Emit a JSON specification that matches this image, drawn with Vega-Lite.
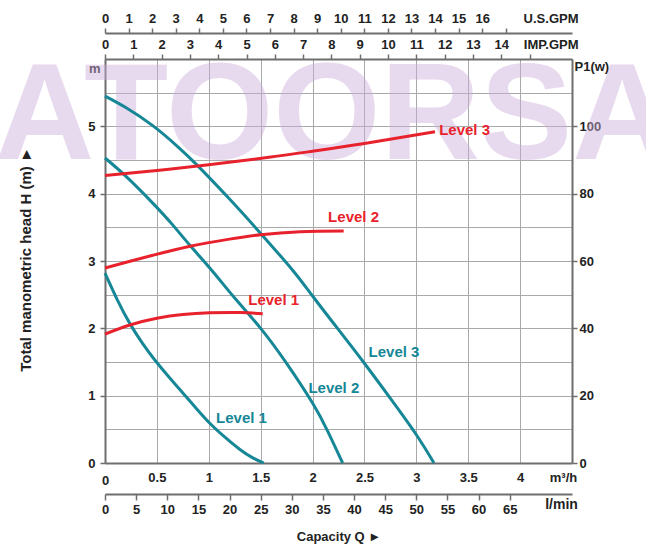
{
  "$schema": "https://vega.github.io/schema/vega-lite/v6.json",
  "autosize": {"type": "none"},
  "width": 467,
  "height": 404,
  "padding": {"left": 105, "top": 59, "right": 74, "bottom": 94},
  "background": "white",
  "config": {
    "font": "Liberation Sans",
    "view": {"stroke": null},
    "axis": {
      "labelFont": "Liberation Sans",
      "labelFontSize": 13,
      "labelFontWeight": "bold",
      "labelColor": "#222222",
      "domainColor": "#6e6e6e",
      "domainWidth": 2,
      "tickColor": "#6e6e6e",
      "tickWidth": 1.5,
      "labelFlush": false,
      "labelOverlap": false,
      "labelBound": false,
      "grid": false,
      "titleFont": "Liberation Sans",
      "titleFontWeight": "bold",
      "titleColor": "#222222",
      "titleFontSize": 13
    }
  },
  "datasets": {
    "head": [
      {"level": "Level 1", "q": 0, "h": 2.82},
      {"level": "Level 1", "q": 0.12, "h": 2.42},
      {"level": "Level 1", "q": 0.24, "h": 2.07},
      {"level": "Level 1", "q": 0.36, "h": 1.78},
      {"level": "Level 1", "q": 0.48, "h": 1.53},
      {"level": "Level 1", "q": 0.62, "h": 1.27},
      {"level": "Level 1", "q": 0.75, "h": 1.04},
      {"level": "Level 1", "q": 0.88, "h": 0.81},
      {"level": "Level 1", "q": 1.01, "h": 0.59},
      {"level": "Level 1", "q": 1.15, "h": 0.39},
      {"level": "Level 1", "q": 1.3, "h": 0.2},
      {"level": "Level 1", "q": 1.42, "h": 0.08},
      {"level": "Level 1", "q": 1.53, "h": 0},
      {"level": "Level 2", "q": 0, "h": 4.53},
      {"level": "Level 2", "q": 0.2, "h": 4.26},
      {"level": "Level 2", "q": 0.46, "h": 3.86},
      {"level": "Level 2", "q": 0.65, "h": 3.54},
      {"level": "Level 2", "q": 0.82, "h": 3.23},
      {"level": "Level 2", "q": 1.03, "h": 2.86},
      {"level": "Level 2", "q": 1.25, "h": 2.45},
      {"level": "Level 2", "q": 1.5, "h": 2.0},
      {"level": "Level 2", "q": 1.75, "h": 1.48},
      {"level": "Level 2", "q": 2.0, "h": 0.89},
      {"level": "Level 2", "q": 2.15, "h": 0.46},
      {"level": "Level 2", "q": 2.29, "h": 0},
      {"level": "Level 3", "q": 0, "h": 5.45},
      {"level": "Level 3", "q": 0.2, "h": 5.28},
      {"level": "Level 3", "q": 0.46, "h": 5.01},
      {"level": "Level 3", "q": 0.7, "h": 4.7},
      {"level": "Level 3", "q": 0.89, "h": 4.42},
      {"level": "Level 3", "q": 1.2, "h": 3.92},
      {"level": "Level 3", "q": 1.5, "h": 3.41},
      {"level": "Level 3", "q": 1.81, "h": 2.86},
      {"level": "Level 3", "q": 2.0, "h": 2.48},
      {"level": "Level 3", "q": 2.25, "h": 1.98},
      {"level": "Level 3", "q": 2.49, "h": 1.5},
      {"level": "Level 3", "q": 2.75, "h": 0.96},
      {"level": "Level 3", "q": 3.0, "h": 0.42},
      {"level": "Level 3", "q": 3.17, "h": 0}
    ],
    "power": [
      {"level": "Level 1", "q": 0, "p": 38.3},
      {"level": "Level 1", "q": 0.24, "p": 41.0},
      {"level": "Level 1", "q": 0.5, "p": 43.0},
      {"level": "Level 1", "q": 0.75, "p": 44.1},
      {"level": "Level 1", "q": 1.01, "p": 44.6},
      {"level": "Level 1", "q": 1.3, "p": 44.7},
      {"level": "Level 1", "q": 1.52, "p": 44.3},
      {"level": "Level 2", "q": 0, "p": 57.9},
      {"level": "Level 2", "q": 0.25, "p": 60.0},
      {"level": "Level 2", "q": 0.46, "p": 61.7},
      {"level": "Level 2", "q": 0.82, "p": 64.4},
      {"level": "Level 2", "q": 1.2, "p": 66.5},
      {"level": "Level 2", "q": 1.5, "p": 67.8},
      {"level": "Level 2", "q": 1.88, "p": 68.7},
      {"level": "Level 2", "q": 2.3, "p": 68.9},
      {"level": "Level 3", "q": 0, "p": 85.4},
      {"level": "Level 3", "q": 0.5, "p": 86.9},
      {"level": "Level 3", "q": 1.0, "p": 88.6},
      {"level": "Level 3", "q": 1.58, "p": 90.8},
      {"level": "Level 3", "q": 2.0, "p": 92.6},
      {"level": "Level 3", "q": 2.5, "p": 94.9},
      {"level": "Level 3", "q": 3.18, "p": 98.4}
    ],
    "labels_h": [
      {"q": 1.07, "h": 0.67, "t": "Level 1"},
      {"q": 1.96, "h": 1.11, "t": "Level 2"},
      {"q": 2.54, "h": 1.65, "t": "Level 3"}
    ],
    "labels_p": [
      {"q": 1.38, "p": 48.4, "t": "Level 1"},
      {"q": 2.15, "p": 73, "t": "Level 2"},
      {"q": 3.22, "p": 98.8, "t": "Level 3"}
    ],
    "mark_text": [
      {"q": 2.2, "h": 4.515, "t": "ATOORSA"}
    ],
    "anchor": [
      {"v": 0}
    ]
  },
  "layer": [
    {
      "encoding": {
        "x": {
          "field": "q",
          "type": "quantitative",
          "scale": {"domain": [0, 4.5], "nice": false, "zero": false},
          "axis": {
            "orient": "bottom",
            "values": [0, 0.5, 1, 1.5, 2, 2.5, 3, 3.5, 4, 4.5],
            "format": "~g",
            "labelExpr": "datum.value == 4.5 ? 'm³/h' : datum.label",
            "labelOffset": {"condition": {"test": "datum.value == 4.5", "value": -9}, "value": 0},
            "labelPadding": {"condition": {"test": "datum.value == 0", "value": 11}, "value": 8},
            "ticks": false,
            "tickSize": 0,
            "grid": true,
            "gridColor": "#a9a9a9",
            "gridWidth": 1,
            "title": null
          }
        }
      },
      "layer": [
        {
          "encoding": {
            "y": {
              "field": "h",
              "type": "quantitative",
              "scale": {"domain": [0, 6], "nice": false, "zero": false},
              "axis": {
                "orient": "left",
                "values": [0, 0.5, 1, 1.5, 2, 2.5, 3, 3.5, 4, 4.5, 5, 5.5, 6],
                "format": "~g",
                "labelExpr": "datum.value == 6 ? 'm' : (datum.value % 1 == 0 ? datum.label : '')",
                "tickSize": {"condition": {"test": "datum.value % 1 != 0 || datum.value == 6", "value": 0}, "value": 5},
                "labelPadding": 5,
                "labelOffset": {"condition": {"test": "datum.value == 6", "value": 9}, "value": 0},
                "grid": true,
                "gridColor": "#a9a9a9",
                "gridWidth": 1,
                "title": "Total manometric head H (m) ►",
                "titleFontSize": 15,
                "titleX": -80,
                "titleY": 200,
                "titleAlign": "center",
                "titleBaseline": "middle",
                "titleAngle": -90
              }
            }
          },
          "layer": [
            {
              "data": {"name": "mark_text"},
              "mark": {"type": "text", "fontSize": 138, "fontWeight": "bold", "font": "Liberation Sans", "color": "#ceafdb", "opacity": 0.45, "align": "center", "baseline": "alphabetic"},
              "encoding": {"text": {"field": "t"}}
            },
            {
              "data": {"name": "head"},
              "mark": {"type": "line", "strokeWidth": 3, "interpolate": "natural", "color": "#168796"},
              "encoding": {"detail": {"field": "level"}}
            },
            {
              "data": {"name": "labels_h"},
              "mark": {"type": "text", "fontSize": 15, "fontWeight": "bold", "color": "#168796", "align": "left", "baseline": "middle"},
              "encoding": {"text": {"field": "t"}}
            }
          ]
        },
        {
          "encoding": {
            "y": {
              "field": "p",
              "type": "quantitative",
              "scale": {"domain": [0, 120], "nice": false, "zero": false},
              "axis": {
                "orient": "right",
                "values": [0, 20, 40, 60, 80, 100, 120],
                "labelExpr": "datum.value == 120 ? 'P1(w)' : datum.label",
                "tickSize": {"condition": {"test": "datum.value == 120", "value": 0}, "value": 5},
                "labelPadding": 2,
                "labelOffset": {"condition": {"test": "datum.value == 120", "value": 7}, "value": 0},
                "grid": false,
                "title": null
              }
            }
          },
          "layer": [
            {
              "data": {"name": "power"},
              "mark": {"type": "line", "strokeWidth": 3, "interpolate": "natural", "color": "#e8222c"},
              "encoding": {"detail": {"field": "level"}}
            },
            {
              "data": {"name": "labels_p"},
              "mark": {"type": "text", "fontSize": 15, "fontWeight": "bold", "color": "#e8222c", "align": "left", "baseline": "middle"},
              "encoding": {"text": {"field": "t"}}
            }
          ]
        }
      ],
      "resolve": {"scale": {"y": "independent"}, "axis": {"y": "independent"}}
    },
    {
      "data": {"name": "anchor"},
      "mark": {"type": "point", "opacity": 0},
      "encoding": {
        "x": {
          "field": "v",
          "type": "quantitative",
          "scale": {"domain": [0, 75], "nice": false, "zero": false},
          "axis": {
            "orient": "bottom",
            "offset": 31,
            "values": [0, 5, 10, 15, 20, 25, 30, 35, 40, 45, 50, 55, 60, 65, 70, 75],
            "labelExpr": "datum.value == 75 ? 'l/min' : (datum.value == 70 ? '' : datum.label)",
            "labelOffset": {"condition": {"test": "datum.value == 75", "value": -11}, "value": 0},
            "labelFontSize": {"condition": {"test": "datum.value == 75", "value": 14}, "value": 13},
            "tickSize": {"condition": {"test": "datum.value >= 70", "value": 0}, "value": 6},
            "labelPadding": 3,
            "grid": false,
            "title": "Capacity Q ►",
            "titlePadding": 14
          }
        }
      }
    },
    {
      "data": {"name": "anchor"},
      "mark": {"type": "point", "opacity": 0},
      "encoding": {
        "x": {
          "field": "v",
          "type": "quantitative",
          "scale": {"domain": [0, 16.5], "nice": false, "zero": false},
          "axis": {
            "orient": "top",
            "offset": 0,
            "values": [0, 1, 2, 3, 4, 5, 6, 7, 8, 9, 10, 11, 12, 13, 14, 15],
            "labelExpr": "datum.value == 15 ? '' : datum.label",
            "tickSize": 5,
            "labelPadding": 3,
            "grid": false,
            "title": "IMP.GPM",
            "titleAngle": 0,
            "titleAlign": "right",
            "titleBaseline": "alphabetic",
            "titleX": 473,
            "titleY": -11
          }
        }
      }
    },
    {
      "data": {"name": "anchor"},
      "mark": {"type": "point", "opacity": 0},
      "encoding": {
        "x": {
          "field": "v",
          "type": "quantitative",
          "scale": {"domain": [0, 19.81], "nice": false, "zero": false},
          "axis": {
            "orient": "top",
            "offset": 26,
            "values": [0, 1, 2, 3, 4, 5, 6, 7, 8, 9, 10, 11, 12, 13, 14, 15, 16, 17],
            "labelExpr": "datum.value == 17 ? '' : datum.label",
            "tickSize": 5,
            "labelPadding": 3,
            "grid": false,
            "title": "U.S.GPM",
            "titleAngle": 0,
            "titleAlign": "right",
            "titleBaseline": "alphabetic",
            "titleX": 473,
            "titleY": -11
          }
        }
      }
    }
  ],
  "resolve": {"scale": {"x": "independent", "y": "independent"}, "axis": {"x": "independent", "y": "independent"}}
}
